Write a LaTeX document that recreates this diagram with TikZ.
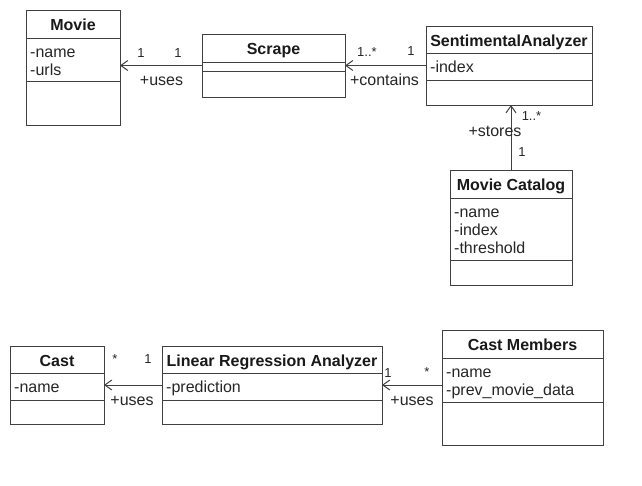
\documentclass[tikz,border=0pt]{standalone}
\usepackage{fontspec}
\setmainfont{Liberation Sans}
\usetikzlibrary{arrows.meta}
\tikzset{
  boxline/.style={draw=black!75, line width=1pt},
  clsbox/.style={boxline, fill=white, inner sep=0pt, outer sep=0pt},
  ttl/.style={font=\fontsize{16}{18}\selectfont\bfseries, text=black!90, anchor=base, inner sep=0pt},
  attr/.style={font=\fontsize{16}{18}\selectfont, text=black!85, anchor=base west, inner sep=0pt},
  role/.style={font=\fontsize{16}{18}\selectfont, text=black!85, anchor=base, inner sep=0pt},
  mult/.style={font=\fontsize{13}{15}\selectfont, text=black!85, anchor=base, inner sep=0pt},
  assoc/.style={draw=black!75, line width=1pt, -{Straight Barb[length=7pt,width=10pt,line width=1pt]}},
}
% #1 name, #2 x, #3 y, #4 w, #5 h, #6 y of first separator, #7 y of second separator, #8 title, #9 attrs
\newcommand\umlbox[9]{%
  \node[clsbox, minimum width=#4pt, minimum height=#5pt, anchor=north west] (#1) at (#2,#3) {};
  \draw[boxline] (#2,#6) -- ++(#4,0);
  \draw[boxline] (#2,#7) -- ++(#4,0);
  \node[ttl] (#1-title) at (#2+#4/2,#3+20) {#8};
  \foreach \a [count=\i] in {#9} {
    \node[attr] (#1-a\i) at (#2+4,#6+19+\i*18-18) {\a};
  }
}
\begin{document}
\begin{tikzpicture}[x=1pt,y=-1pt]
\useasboundingbox[fill=white] (0,0) rectangle (642,485);

\umlbox{movie}{26}{10}{94}{115}{38}{81}{Movie}{-name,-urls}
\umlbox{scrape}{202}{34}{143}{63}{62}{71}{Scrape}{}
\umlbox{sa}{426}{26}{166}{79}{53}{80}{SentimentalAnalyzer}{-index}
\umlbox{mc}{450}{170}{122}{115}{198}{260}{Movie Catalog}{-name,-index,-threshold}
\umlbox{cast}{10}{346}{94}{78}{373}{400}{Cast}{-name}
\umlbox{lra}{162}{346}{220}{78}{373}{400}{Linear Regression Analyzer}{-prediction}
\umlbox{cm}{442}{330}{161}{115}{358}{402}{Cast Members}{-name,-prev\_movie\_data}

% Scrape -> Movie
\draw[assoc] (scrape.west) -- (scrape.west -| movie.east);
\node[mult] (m1) at (141,57) {1};
\node[mult] (m2) at (178,57) {1};
\node[role] (r1) at (161.5,85) {+uses};

% SentimentalAnalyzer -> Scrape
\draw[assoc] (sa.west) -- (sa.west -| scrape.east);
\node[mult] (m3) at (367,56) {1..*};
\node[mult] (m4) at (411,55.5) {1};
\node[role] (r2) at (384.5,85) {+contains};

% Movie Catalog -> SentimentalAnalyzer
\draw[assoc] (mc.north) -- (mc.north |- sa.south);
\node[mult] (m5) at (531.5,120) {1..*};
\node[role] (r3) at (495,136) {+stores};
\node[mult] (m6) at (522,156) {1};

% LRA -> Cast
\draw[assoc] (lra.west) -- (lra.west -| cast.east);
\node[mult] (m7) at (115,363) {*};
\node[mult] (m8) at (148,363) {1};
\node[role] (r4) at (132,405) {+uses};

% Cast Members -> LRA
\draw[assoc] (cm.west |- lra.west) -- (lra.east);
\node[mult] (m9) at (388,377) {1};
\node[mult] (m10) at (427,376.5) {*};
\node[role] (r5) at (412,405) {+uses};
\end{tikzpicture}
\end{document}
